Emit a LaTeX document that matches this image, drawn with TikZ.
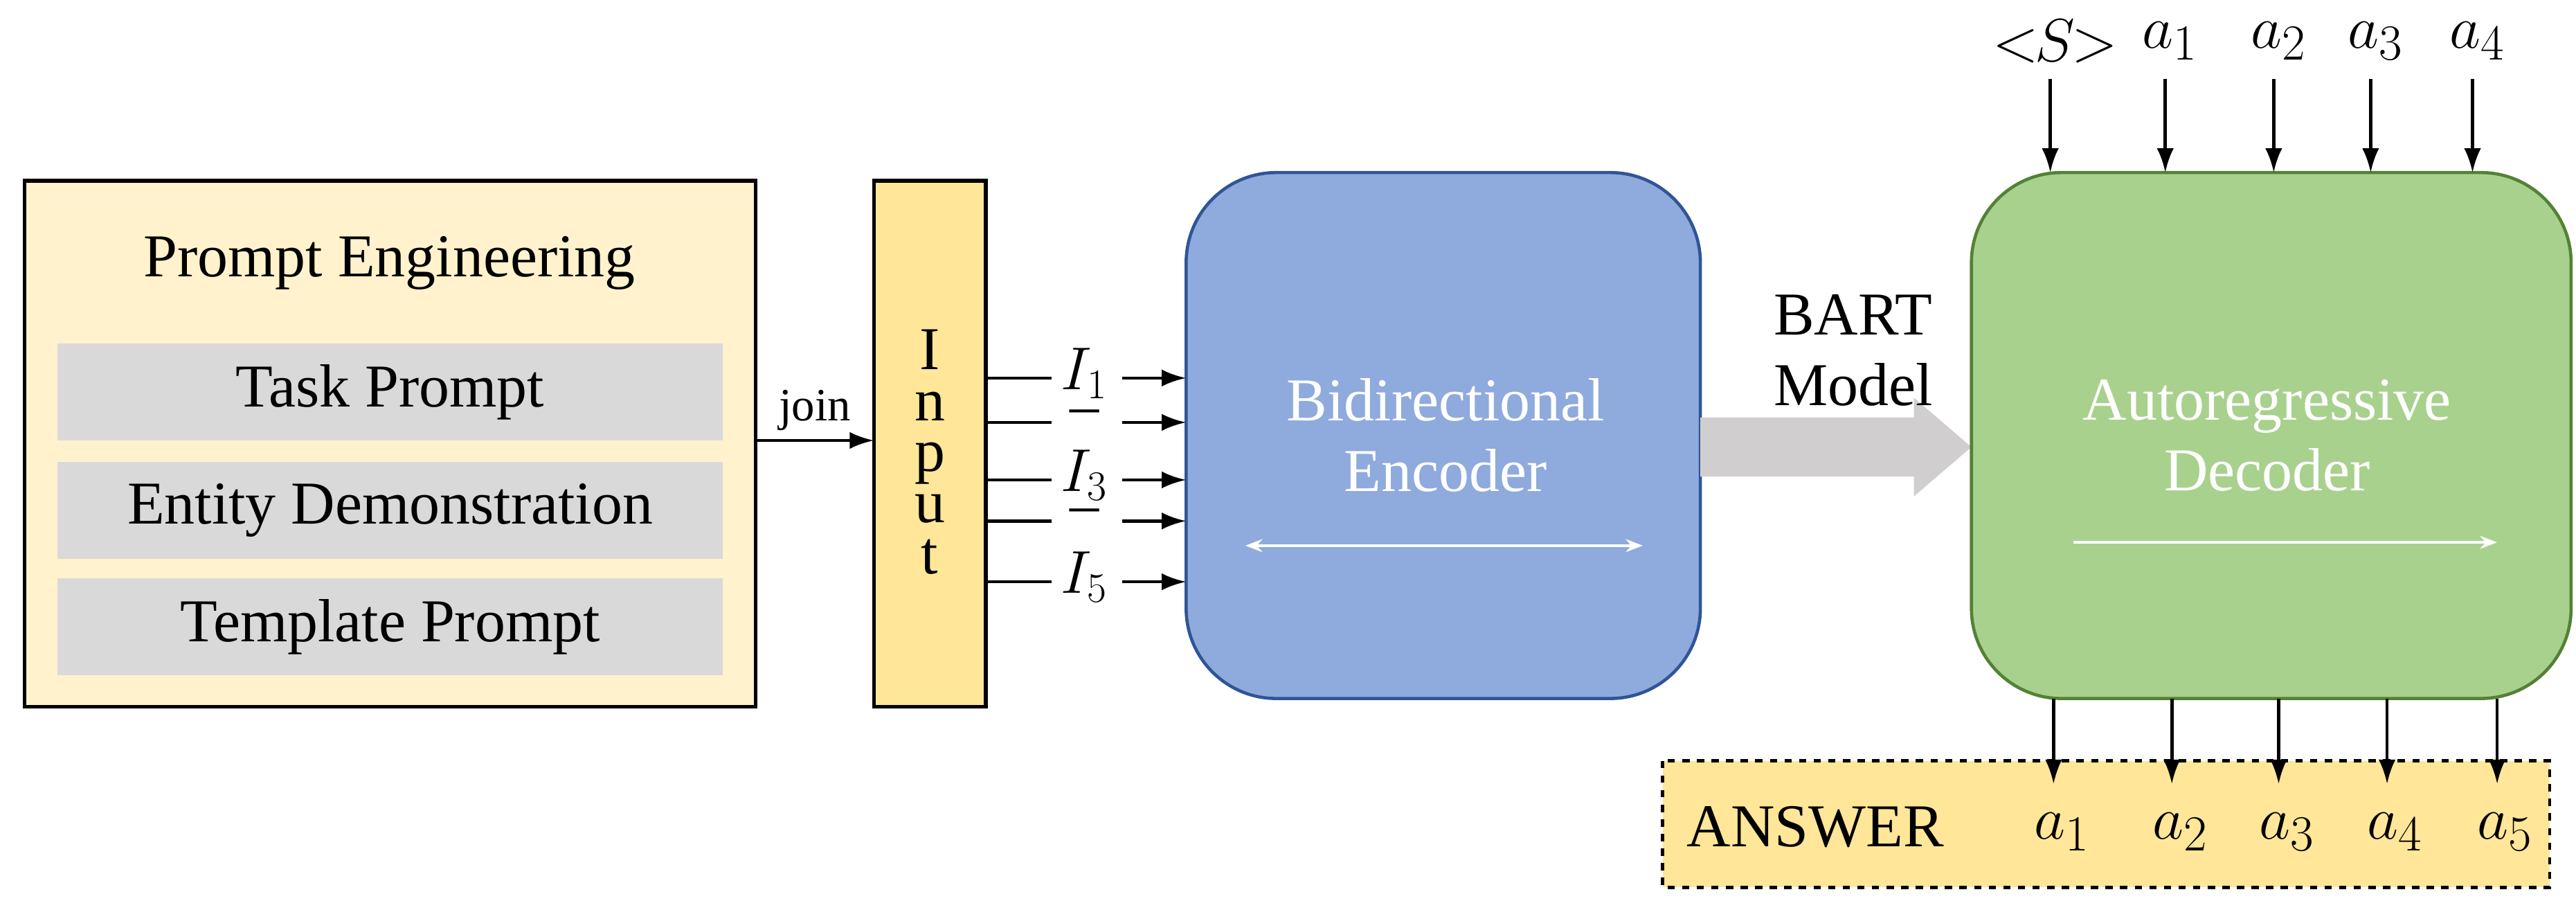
\documentclass[tikz,border=0pt]{standalone}
\usepackage{fontspec}
\setmainfont{Liberation Serif}
\usetikzlibrary{arrows.meta,positioning}
\definecolor{cream}{HTML}{FFF2CC}
\definecolor{yel}{HTML}{FFE699}
\definecolor{gbox}{HTML}{D9D9D9}
\definecolor{encf}{HTML}{8FAADC}
\definecolor{encd}{HTML}{2F5597}
\definecolor{decf}{HTML}{A9D18E}
\definecolor{decd}{HTML}{538135}
\definecolor{bart}{HTML}{D0CECE}
\begin{document}
\begin{tikzpicture}[x=0.02373cm,y=-0.02373cm,
  txt/.style={font=\fontsize{25}{29}\selectfont},
  mth/.style={font=\fontsize{24}{26}\selectfont,inner sep=0pt},
  arr/.style={-{Latex[length=10pt,width=7pt]},line width=1.3pt},
  gb/.style={fill=gbox,draw=none,minimum width=405*0.02373cm,minimum height=59*0.02373cm,txt},
  blk/.style={rounded corners=1.3cm,line width=1.3pt}]
\useasboundingbox (0,0) rectangle (1568,559);
% prompt engineering
\draw[fill=cream,line width=1.6pt] (15,110) rectangle (460,430);
\node[txt] (pe) at (237,160) {Prompt Engineering};
\node[gb] (tp) at (237.5,238.5) {Task Prompt};
\node[gb] (ed) at (237.5,310.5) {Entity Demonstration};
\node[gb] (tm) at (237.5,381.5) {Template Prompt};
% input
\draw[fill=yel,line width=1.6pt] (532,110) rectangle (600,430);
\node[align=center,font=\fontsize{25}{21}\selectfont] (inp) at (566,275) {I\\n\\p\\u\\t};
\coordinate (pr) at (460,268);
\coordinate (il) at (532,268);
\draw[arr] (pr) -- (il) node[midway,above,font=\fontsize{19}{21}\selectfont] {join};
% encoder
\draw[blk,fill=encf,draw=encd] (722,105) rectangle (1035,425);
\node[txt,white,align=center] (enc) at (880,265) {Bidirectional\\Encoder};
\coordinate (e1) at (758,332); \coordinate (e2) at (1000,332);
\draw[white,line width=1.2pt,{Stealth[length=7pt]}-{Stealth[length=7pt]}] (e1) -- (e2);
% input arrows
\foreach \y/\l [count=\i] in {227/{$I_1$},254/{--},289/{$I_3$},314/{--},351/{$I_5$}}{
  \coordinate (s\i) at (600,\y+3);
  \coordinate (m\i) at (640,\y+3);
  \node[mth] (l\i) at (660,\y) {\l};
  \coordinate (n\i) at (683,\y+3);
  \coordinate (t\i) at (722,\y+3);
  \draw[line width=1.3pt] (s\i) -- (m\i);
  \draw[arr] (n\i) -- (t\i);
}
% BART arrow
\fill[bart] (1035,254) -- (1165,254) -- (1165,242) -- (1200,272) -- (1165,302) -- (1165,290) -- (1035,290) -- cycle;
\node[txt,align=center] (bm) at (1128,213) {BART\\Model};
% decoder
\draw[blk,fill=decf,draw=decd] (1200,105) rectangle (1565,425);
\node[txt,white,align=center] (dec) at (1380,265) {Autoregressive\\Decoder};
\coordinate (d1) at (1262,330); \coordinate (d2) at (1520,330);
\draw[white,line width=1.2pt,-{Stealth[length=7pt]}] (d1) -- (d2);
% top inputs
\foreach \x/\l [count=\i] in {1248/{$<\!\!S\!\!>$},1318/{$a_1$},1384/{$a_2$},1443/{$a_3$},1505/{$a_4$}}{
  \node[font=\fontsize{28}{30}\selectfont,inner sep=0pt] (u\i) at (\x+3,25) {\l};
  \coordinate (ua\i) at (\x,48);
  \coordinate (ub\i) at (\x,105);
  \draw[arr] (ua\i) -- (ub\i);
}
% answer
\draw[dashed,fill=yel,line width=1.3pt] (1012,463) rectangle (1552,540);
\node[txt] (ans) at (1105,503) {ANSWER};
\foreach \x [count=\i] in {1250,1322,1387,1453,1520}{
  \coordinate (oa\i) at (\x,425);
  \coordinate (ob\i) at (\x,477);
  \draw[arr] (oa\i) -- (ob\i);
  \node[font=\fontsize{28}{30}\selectfont] (o\i) at (\x+5,506) {$a_{\i}$};
}
\end{tikzpicture}
\end{document}
